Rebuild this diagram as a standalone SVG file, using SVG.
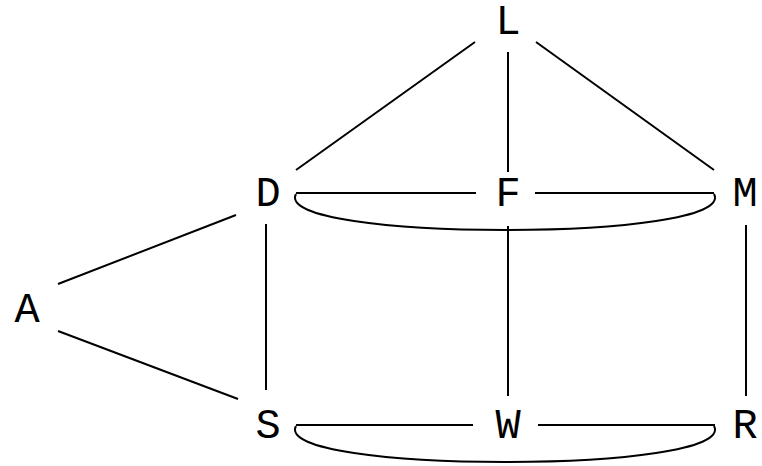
<svg xmlns="http://www.w3.org/2000/svg" width="762" height="466" viewBox="0 0 762 466">
<style>
.e{stroke:#000;stroke-width:2;fill:none}
.n text{font-family:"Liberation Mono","Courier New",monospace;font-size:42px;fill:#000;text-anchor:middle;dominant-baseline:central}
</style>
<rect width="762" height="466" fill="#fff"/>
<g id="connectors">
<line class="e" x1="475" y1="42" x2="296" y2="170"/>
<line class="e" x1="508" y1="52" x2="508" y2="172"/>
<line class="e" x1="536" y1="42" x2="714" y2="170"/>
<line class="e" x1="296" y1="193" x2="476" y2="193"/>
<line class="e" x1="535" y1="193" x2="714" y2="193"/>
<path class="e" d="M296,194 C270,242 740,242 714,194"/>
<line class="e" x1="236" y1="215" x2="58" y2="284"/>
<line class="e" x1="58" y1="331" x2="238" y2="399"/>
<line class="e" x1="266" y1="224" x2="266" y2="390"/>
<line class="e" x1="508" y1="226" x2="508" y2="396"/>
<line class="e" x1="746" y1="225" x2="746" y2="396"/>
<line class="e" x1="296" y1="425" x2="473" y2="425"/>
<line class="e" x1="538" y1="425" x2="715" y2="425"/>
<path class="e" d="M296,426 C270,474 740,474 714,426"/>
</g>
<g id="L" class="n"><text x="508" y="23">L</text></g>
<g id="D" class="n"><text x="268" y="195">D</text></g>
<g id="F" class="n"><text x="508" y="195">F</text></g>
<g id="M" class="n"><text x="745" y="195">M</text></g>
<g id="A" class="n"><text x="27" y="311">A</text></g>
<g id="S" class="n"><text x="268" y="427">S</text></g>
<g id="W" class="n"><text x="508" y="427">W</text></g>
<g id="R" class="n"><text x="745" y="427">R</text></g>
</svg>
